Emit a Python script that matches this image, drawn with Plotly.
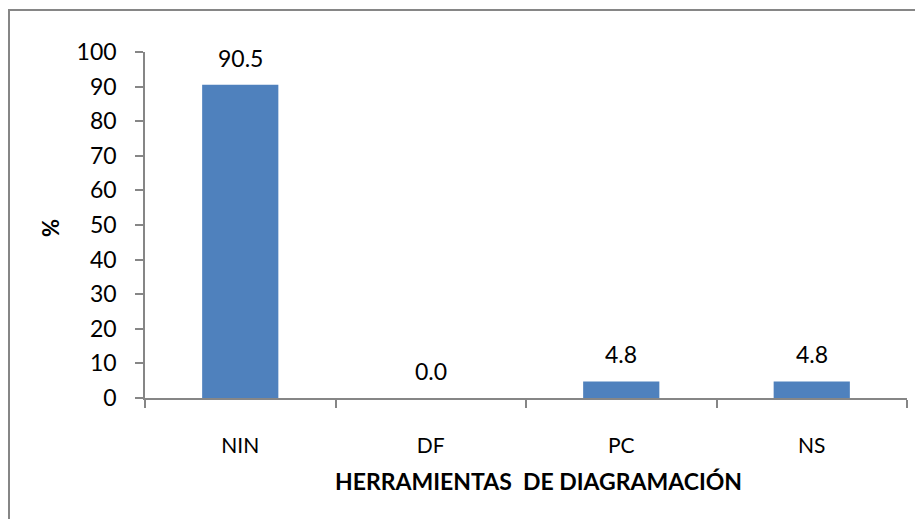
import plotly.graph_objects as go

categories = ["NIN", "DF", "PC", "NS"]
values = [90.5, 0.0, 4.8, 4.8]
y_ticks = list(range(0, 101, 10))
x_title = "HERRAMIENTAS  DE DIAGRAMACIÓN"
y_title = "%"

FONT = "Lato"
BAR_COLOR = "#4F81BD"
AXIS_COLOR = "#868686"

# plot area in pixels: left 145, right 907, top 52, bottom 398
L, R, T, B = 145, 907, 52, 398
PW, PH = R - L, B - T


def px_x(x):
    return (x - L) / PW


def px_y(y):
    return (B - y) / PH


fig = go.Figure(
    go.Bar(
        x=categories,
        y=values,
        marker=dict(color=BAR_COLOR, line=dict(width=0)),
        width=0.4,
        hoverinfo="x+y",
    )
)

annotations = [
    dict(x=c, y=v, xref="x", yref="y", text=f"{v:.1f}", showarrow=False,
         yanchor="bottom", yshift=11,
         font=dict(family=FONT, size=23, color="#000000"))
    for c, v in zip(categories, values)
]
annotations += [
    dict(x=px_x(538.5), y=px_y(481), xref="paper", yref="paper",
         text=f"<b>{x_title}</b>", showarrow=False,
         xanchor="center", yanchor="middle",
         font=dict(family=FONT, size=23, color="#000000")),
    dict(x=px_x(50), y=px_y(228), xref="paper", yref="paper",
         text=f"<b>{y_title}</b>", showarrow=False, textangle=-90,
         xanchor="center", yanchor="middle",
         font=dict(family=FONT, size=22, color="#000000")),
]

fig.update_layout(
    width=915,
    height=519,
    margin=dict(l=L, r=915 - R, t=T, b=519 - B),
    paper_bgcolor="white",
    plot_bgcolor="white",
    showlegend=False,
    font=dict(family=FONT, size=20, color="#000000"),
    xaxis=dict(
        showline=True, linecolor=AXIS_COLOR, linewidth=1.5,
        ticks="outside", tickcolor=AXIS_COLOR, ticklen=8, tickwidth=1.5,
        tickson="boundaries",
        showgrid=False, zeroline=False,
        tickfont=dict(family=FONT, size=21),
        ticklabelstandoff=28,
    ),
    yaxis=dict(
        range=[0, 100],
        tickvals=y_ticks,
        showline=True, linecolor=AXIS_COLOR, linewidth=1.5,
        ticks="outside", tickcolor=AXIS_COLOR, ticklen=8, tickwidth=1.5,
        showgrid=False, zeroline=False,
        tickfont=dict(family=FONT, size=23),
        ticklabelstandoff=14,
    ),
    annotations=annotations,
    shapes=[
        dict(type="rect", xref="paper", yref="paper",
             x0=px_x(9), x1=px_x(930), y0=px_y(540), y1=px_y(10),
             line=dict(color=AXIS_COLOR, width=2), layer="below"),
    ],
)

fig.write_html("out.html")
